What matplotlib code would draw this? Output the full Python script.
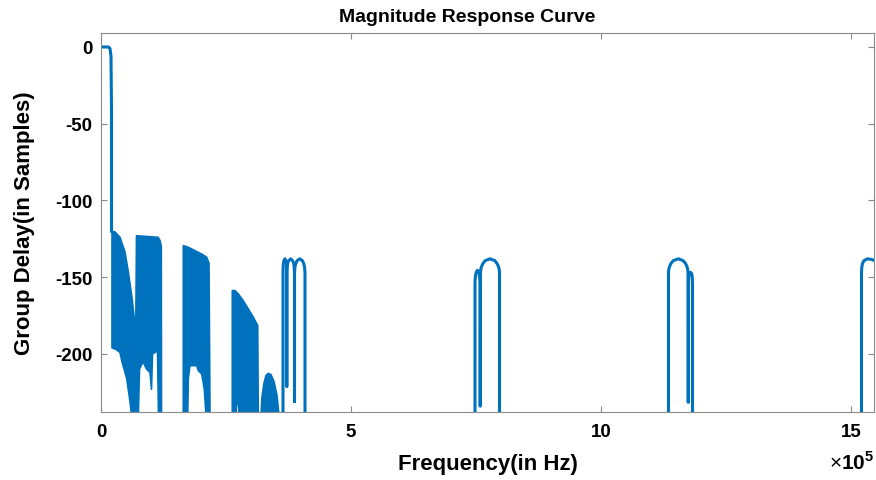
import matplotlib
matplotlib.use('Agg')
import matplotlib.pyplot as plt

# frequency values are in units of 1e5 Hz, group delay in samples
BLUE = '#0072BD'

# passband: flat at 0 then the drop
pass_f = [0.0, 0.15, 0.18, 0.20, 0.21, 0.21]
pass_gd = [0, 0, -1, -6, -40, -120]

# dense ripple bands (drawn as filled envelopes)
band1_up_f = [0.22, 0.28, 0.38, 0.48, 0.546, 0.614, 0.666, 0.696, 0.71, 0.94, 1.14, 1.18, 1.206, 1.21]
band1_up_gd = [-120, -120.5, -124, -133.6, -146.6, -162, -177, -182, -123, -123.5, -124, -126, -130, -240]
band1_lo_f = [0.22, 0.30, 0.38, 0.42, 0.514, 0.58, 0.61, 0.746, 0.77, 0.84, 0.914, 0.98, 1.01, 1.03, 1.13, 1.15, 1.21]
band1_lo_gd = [-196, -197, -199, -205, -216, -231, -240, -240, -210, -205, -210, -212, -223, -200, -198, -240, -240]

band2_up_f = [1.646, 1.746, 1.88, 2.014, 2.114, 2.16, 2.18]
band2_up_gd = [-129.4, -130.5, -132.7, -134.9, -137, -141, -240]
band2_lo_f = [1.646, 1.734, 1.746, 1.78, 1.914, 1.946, 2.014, 2.066, 2.10, 2.18]
band2_lo_gd = [-240, -240, -216, -207.6, -207.6, -210.8, -213, -222.8, -240, -240]

band3_up_f = [2.626, 2.68, 2.746, 2.846, 2.946, 3.046, 3.134, 3.146]
band3_up_gd = [-158.7, -158.7, -160.9, -165.3, -170.7, -176, -181.5, -240]
band3_lo_f = [2.626, 2.70, 2.71, 2.75, 2.76, 3.146]
band3_lo_gd = [-240, -240, -233, -233, -240, -240]

band4_up_f = [3.20, 3.22, 3.26, 3.30, 3.346, 3.40, 3.46, 3.52, 3.56]
band4_up_gd = [-240, -228, -219, -214, -212.6, -213.5, -218, -227, -240]
band4_lo_f = [3.20, 3.56]
band4_lo_gd = [-240, -240]

# clean lobes (drawn as lines)
lobe1_f = [3.64, 3.64, 3.6438, 3.6475, 3.659, 3.678, 3.697, 3.7085, 3.7122, 3.716, 3.716, 3.716,
           3.7237, 3.7323, 3.7545, 3.793, 3.8315, 3.8537, 3.8623, 3.87, 3.87, 3.87,
           3.8805, 3.8963, 3.9225, 3.975, 4.0275, 4.0538, 4.0695, 4.08, 4.08]
lobe1_gd = [-240, -147, -143.1, -141, -139.2, -138, -139.2, -141, -143.1, -147, -221, -147,
            -143.1, -141, -139.2, -138, -139.2, -141, -143.1, -147, -231, -147,
            -143.1, -141, -139.2, -138, -139.2, -141, -143.1, -147, -240]

lobe2_f = [7.48, 7.48, 7.4815, 7.485, 7.4925, 7.505, 7.53, 7.555, 7.5675, 7.575, 7.5785, 7.58,
           7.584, 7.59, 7.596, 7.61, 7.64, 7.685, 7.78, 7.875, 7.92, 7.95, 7.964, 7.97, 7.97]
lobe2_gd = [-240, -155, -152.5, -150.5, -148.5, -146.7, -145.5, -146.7, -148.5, -150.5, -152.5, -155,
            -234, -147, -144.8, -143.1, -141, -139.2, -138, -139.2, -141, -143.1, -144.8, -147, -240]

lobe3_f = [11.35, 11.35, 11.356, 11.37, 11.40, 11.447, 11.545, 11.643, 11.69, 11.72, 11.734, 11.74,
           11.745, 11.75, 11.7512, 11.754, 11.76, 11.77, 11.79, 11.81, 11.82, 11.826, 11.829, 11.83, 11.83]
lobe3_gd = [-240, -147, -144.8, -143.1, -141, -139.2, -138, -139.2, -141, -143.1, -144.8, -147,
            -231.5, -155, -152.5, -150.5, -148.5, -147.5, -146.8, -147.5, -148.5, -150.5, -152.5, -155, -240]

lobe4_f = [15.21, 15.21, 15.216, 15.23, 15.26, 15.33, 15.42, 15.50]
lobe4_gd = [-240, -147, -143.5, -141, -139.2, -138, -138.5, -139.5]

x_ticks = [0, 5, 10, 15]
y_ticks = [-200, -150, -100, -50, 0]

plt.rcParams['font.family'] = ['Liberation Sans', 'DejaVu Sans']
plt.rcParams['mathtext.fontset'] = 'custom'
plt.rcParams['mathtext.rm'] = 'Liberation Sans'
plt.rcParams['mathtext.bf'] = 'Liberation Sans:bold'

fig = plt.figure(figsize=(8.76, 4.81), dpi=100)
ax = fig.add_axes([101 / 876, 1 - 413 / 481, 773 / 876, 379 / 481])

ax.plot(pass_f, pass_gd, color=BLUE, lw=2.2, solid_joinstyle='round')

bands = [(band1_up_f, band1_up_gd, band1_lo_f, band1_lo_gd),
         (band2_up_f, band2_up_gd, band2_lo_f, band2_lo_gd),
         (band3_up_f, band3_up_gd, band3_lo_f, band3_lo_gd),
         (band4_up_f, band4_up_gd, band4_lo_f, band4_lo_gd)]
for uf, ug, lf, lg in bands:
    ax.fill(list(uf) + list(lf[::-1]), list(ug) + list(lg[::-1]),
            facecolor=BLUE, edgecolor=BLUE, lw=1.2, joinstyle='round')

for f, g in [(lobe1_f, lobe1_gd), (lobe2_f, lobe2_gd), (lobe3_f, lobe3_gd), (lobe4_f, lobe4_gd)]:
    ax.plot(f, g, color=BLUE, lw=2.2, solid_joinstyle='round', solid_capstyle='round')

ax.set_xlim(0, 15.46)
ax.set_ylim(-237.8, 9.1)
ax.set_xticks(x_ticks)
ax.set_xticklabels([str(t) for t in x_ticks])
ax.set_yticks(y_ticks)
ax.set_yticklabels([str(t) for t in y_ticks])

for s in ax.spines.values():
    s.set_color('#8a8a8a')
    s.set_linewidth(0.8)
ax.tick_params(direction='in', length=4, width=0.8, color='#8a8a8a',
               top=True, right=True, labelsize=13.5)
ax.tick_params(axis='x', pad=8)
ax.tick_params(axis='y', pad=6)
for lbl in ax.get_xticklabels() + ax.get_yticklabels():
    lbl.set_fontweight('bold')

fig.text(467.5 / 876, 1 - 18 / 481, 'Magnitude Response Curve', ha='center', va='center',
         fontsize=14, fontweight='bold')
fig.text(487.5 / 876, 1 - 465 / 481, 'Frequency(in Hz)', ha='center', va='center',
         fontsize=16, fontweight='bold')
fig.text(25 / 876, 1 - 223 / 481, 'Group Delay(in Samples)', ha='center', va='center',
         rotation=90, fontsize=16, fontweight='bold')
fig.text(874 / 876, 1 - 463 / 481, r'$\times\mathbf{10}^{\mathbf{5}}$', ha='right', va='center',
         fontsize=15)

fig.savefig('out.png', dpi=100)
